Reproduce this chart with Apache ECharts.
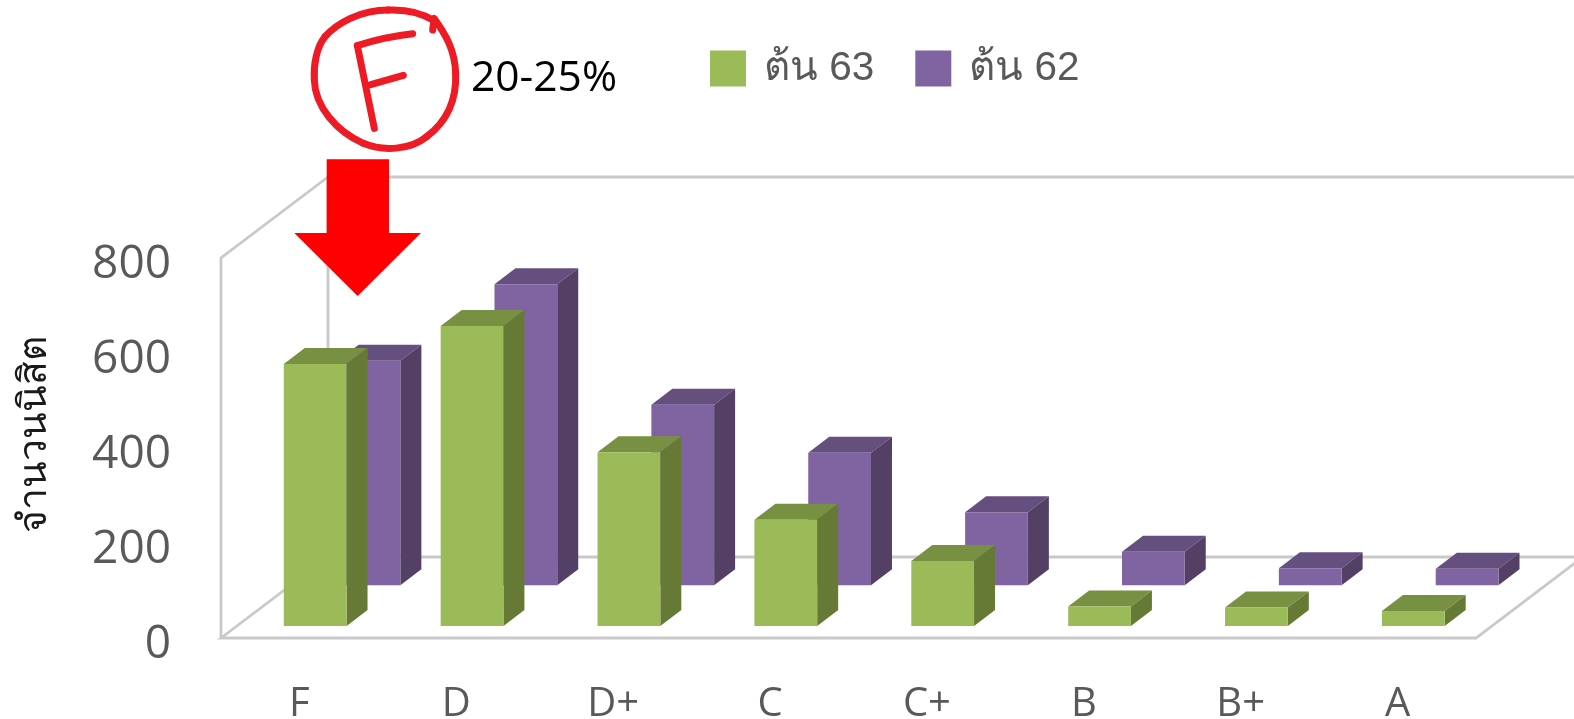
<!DOCTYPE html>
<html>
<head>
<meta charset="utf-8">
<style>
  html, body { margin: 0; padding: 0; background: #fff; }
  #chart { width: 1574px; height: 719px; }
</style>
<script src="https://cdn.jsdelivr.net/npm/echarts@6/dist/echarts.min.js"></script>
</head>
<body>
<div id="chart"></div>
<script>
const grades = ["F", "D", "D+", "C", "C+", "B", "B+", "A"];
const values63 = [552, 632, 366, 224, 137, 41, 39, 32];
const values62 = [473, 634, 380, 279, 154, 71, 36, 35];
const yTicks = { min: 0, max: 800, interval: 200 };

const FONT = '"Open Sans", sans-serif';
const GREY = "#595959";
// oblique depth of the floor, back wall sits this far from the front plane
const DEPTH_X = 107;
const DEPTH_Y = 81;

// one pseudo 3d box, depth = 0 front of the floor, 1 back wall
function boxRenderer(depth, colors) {
  return function (params, api) {
    const i = api.value(0);
    const top = api.coord([i, api.value(1)]);
    const base = api.coord([i, 0]);
    const w = api.size([1, 0])[0] * 0.4;
    const dx = DEPTH_X * depth;
    const dy = DEPTH_Y * depth;
    const x0 = top[0] + dx - w / 2;
    const x1 = x0 + w;
    const yt = top[1] - dy;
    const yb = base[1] - dy;
    const sx = 21;
    const sy = 16;
    return {
      type: "group",
      children: [
        {
          type: "polygon",
          shape: { points: [[x0, yt], [x1, yt], [x1 + sx, yt - sy], [x0 + sx, yt - sy]] },
          style: { fill: colors.top }
        },
        {
          type: "polygon",
          shape: { points: [[x1, yt], [x1 + sx, yt - sy], [x1 + sx, yb - sy], [x1, yb]] },
          style: { fill: colors.side }
        },
        {
          type: "rect",
          shape: { x: x0, y: yt, width: w, height: yb - yt },
          style: { fill: colors.front }
        }
      ]
    };
  };
}

function frameRenderer(params) {
  const c = params.coordSys;
  const l = c.x, r = c.x + c.width, t = c.y, b = c.y + c.height;
  const lines = [
    [[l, b], [l, t], [l + DEPTH_X, t - DEPTH_Y], [l + DEPTH_X, b - DEPTH_Y], [l, b], [r, b], [r + DEPTH_X, b - DEPTH_Y], [l + DEPTH_X, b - DEPTH_Y]],
    [[l + DEPTH_X, t - DEPTH_Y], [r + DEPTH_X, t - DEPTH_Y]]
  ];
  return {
    type: "group",
    children: lines.map(points => ({
      type: "polyline",
      shape: { points: points },
      style: { fill: "none", stroke: "#c9c9c9", lineWidth: 2.8 }
    }))
  };
}

const toPoints = list => list.map((v, i) => [i, v]);

// hand drawn marks were measured on a 3x crop starting at x=280
const mark = pts => pts.map(p => [280 + p[0] / 3, p[1] / 3]);
const redStroke = { fill: "none", stroke: "#ed1c24", lineWidth: 7, lineCap: "round", lineJoin: "round" };
const redCurve = (a, c1, c2, b) => {
  const [p0, p1, p2, p3] = mark([a, c1, c2, b]);
  return {
    type: "bezierCurve",
    z: 100,
    shape: { x1: p0[0], y1: p0[1], cpx1: p1[0], cpy1: p1[1], cpx2: p2[0], cpy2: p2[1], x2: p3[0], y2: p3[1] },
    style: redStroke
  };
};
const redLine = (a, b) => ({ type: "polyline", z: 100, shape: { points: mark([a, b]) }, style: redStroke });

const chart = echarts.init(document.getElementById("chart"));
chart.setOption({
  animation: false,
  backgroundColor: "#fff",
  legend: {
    left: 705,
    top: 43,
    itemWidth: 36,
    itemHeight: 36,
    itemGap: 41,
    icon: "rect",
    data: ["ต้น 63", "ต้น 62"],
    textStyle: {
      color: GREY,
      fontSize: 40.5,
      fontFamily: '"Liberation Sans", sans-serif',
      padding: [0, 0, 0, 13],
      verticalAlign: "top",
      lineHeight: 6
    }
  },
  grid: { left: 221, top: 258, width: 1255, height: 380, outerBoundsMode: "none" },
  xAxis: {
    type: "category",
    data: grades,
    axisLine: { show: false },
    axisTick: { show: false },
    axisLabel: { color: GREY, fontSize: 40, fontFamily: FONT, margin: 47 }
  },
  yAxis: {
    type: "value",
    min: yTicks.min,
    max: yTicks.max,
    interval: yTicks.interval,
    name: "จำนวนนิสิต",
    nameLocation: "middle",
    nameRotate: 90,
    nameGap: 167,
    nameTextStyle: { color: "#1a1a1a", fontSize: 39, fontFamily: FONT, padding: [0, 0, 0, 28] },
    axisLine: { show: false },
    axisTick: { show: false },
    splitLine: { show: false },
    axisLabel: { color: GREY, fontSize: 46, fontFamily: FONT, margin: 50, verticalAlign: "top", lineHeight: 14 }
  },
  series: [
    {
      name: "frame",
      type: "custom",
      silent: true,
      clip: false,
      data: [[0, 0]],
      encode: { x: 0, y: 1 },
      renderItem: frameRenderer,
      z: 1
    },
    {
      name: "ต้น 62",
      type: "custom",
      clip: false,
      itemStyle: { color: "#8064a2" },
      data: toPoints(values62),
      encode: { x: 0, y: 1 },
      renderItem: boxRenderer(0.65, { front: "#8064a2", top: "#654f7e", side: "#544065" }),
      z: 2
    },
    {
      name: "ต้น 63",
      type: "custom",
      clip: false,
      itemStyle: { color: "#9bbb59" },
      data: toPoints(values63),
      encode: { x: 0, y: 1 },
      renderItem: boxRenderer(0.147, { front: "#9bbb59", top: "#789042", side: "#667a36" }),
      z: 3
    }
  ],
  graphic: [
    {
      type: "polygon",
      z: 100,
      shape: { points: mark([[140, 478], [327, 478], [327, 699], [423, 699], [233, 888], [43, 699], [140, 699]]) },
      style: { fill: "#ff0000" }
    },
    // circled F
    redCurve([462, 62], [420, 35], [375, 28], [325, 30]),
    redCurve([325, 30], [240, 30], [170, 70], [135, 110]),
    redCurve([135, 110], [110, 140], [100, 195], [103, 240]),
    redCurve([103, 240], [105, 320], [170, 395], [250, 430]),
    redCurve([250, 430], [310, 455], [390, 450], [440, 410]),
    redCurve([440, 410], [500, 365], [530, 300], [527, 220]),
    redCurve([527, 220], [525, 150], [495, 100], [462, 55]),
    redLine([462, 58], [458, 90]),
    redLine([283, 385], [232, 137]),
    redCurve([232, 137], [290, 117], [345, 107], [398, 101]),
    redLine([272, 254], [370, 226]),
    {
      type: "text",
      z: 100,
      left: 471,
      top: 57,
      style: { text: "20-25%", fill: "#000", fontSize: 42.5, fontFamily: FONT }
    }
  ]
});
</script>
</body>
</html>
